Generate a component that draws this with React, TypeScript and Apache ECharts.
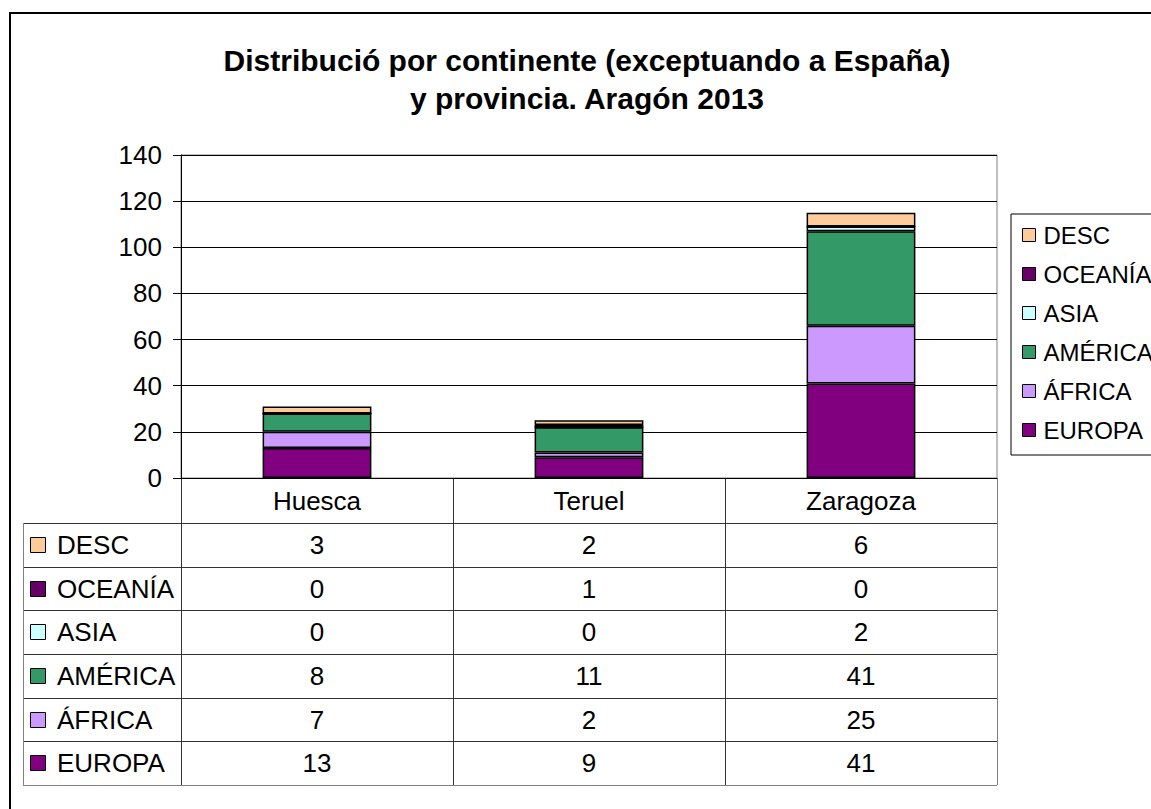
import React, { useEffect, useRef } from "react";
import * as echarts from "echarts";

const categories = ["Huesca", "Teruel", "Zaragoza"];
const seriesNames = ["EUROPA", "ÁFRICA", "AMÉRICA", "ASIA", "OCEANÍA", "DESC"];
const europa = [13, 9, 41];
const africa = [7, 2, 25];
const america = [8, 11, 41];
const asia = [0, 0, 2];
const oceania = [0, 1, 0];
const desc = [3, 2, 6];
const seriesValues = [europa, africa, america, asia, oceania, desc];
const seriesColors = ["#800080", "#CC99FF", "#339966", "#CCFFFF", "#660066", "#FFCC99"];
const yTicks = { min: 0, max: 140, interval: 20 };
const titleText = "Distribució por continente (exceptuando a España)\ny provincia. Aragón 2013";

const FONT = "'Liberation Sans', Arial, Helvetica, sans-serif";

export default function App() {
  const ref = useRef<HTMLDivElement>(null);
  useEffect(() => {
    if (!ref.current) return;
    const chart = echarts.init(ref.current, undefined, { renderer: "svg" });

    const W = 1151;
    const H = 809;
    const gL = 181, gR = 997, gT = 155, gB = 478;
    const colW = (gR - gL) / categories.length;
    const tLeft = 23, tTop = 523, tBottom = 785;
    const rows = seriesNames.map((n, i) => i).reverse();
    const rowH = (tBottom - tTop) / rows.length;

    const graphics: any[] = [];
    // outer frame
    graphics.push({
      type: "rect", shape: { x: 10, y: 13, width: 1200, height: 850 },
      style: { fill: "none", stroke: "#000", lineWidth: 2 }, silent: true,
    });
    // table horizontal lines
    for (let i = 0; i <= rows.length; i++) {
      const y = Math.round(tTop + i * rowH) + 0.5;
      graphics.push({
        type: "line", shape: { x1: tLeft, y1: y, x2: gR, y2: y },
        style: { stroke: i === rows.length ? "#808080" : "#333", lineWidth: 1 }, silent: true,
      });
    }
    // table vertical lines
    for (let j = 0; j <= categories.length; j++) {
      const x = Math.round(gL + j * colW) + 0.5;
      graphics.push({
        type: "line", shape: { x1: x, y1: gB, x2: x, y2: tBottom },
        style: { stroke: j === categories.length ? "#808080" : "#333", lineWidth: 1 }, silent: true,
      });
    }
    graphics.push({
      type: "line", shape: { x1: tLeft + 0.5, y1: tTop, x2: tLeft + 0.5, y2: tBottom },
      style: { stroke: "#808080", lineWidth: 1 }, silent: true,
    });
    // table contents
    rows.forEach((si, r) => {
      const cy = tTop + (r + 0.5) * rowH;
      graphics.push({
        type: "rect", shape: { x: 30.5, y: Math.round(cy - 8) + 0.5, width: 15, height: 15 },
        style: { fill: seriesColors[si], stroke: "#000", lineWidth: 1 }, silent: true,
      });
      graphics.push({
        type: "text", x: 57, y: cy,
        style: { text: seriesNames[si], fontSize: 26, fontFamily: FONT, fill: "#000", align: "left", verticalAlign: "middle" },
        silent: true,
      });
      seriesValues[si].forEach((v, j) => {
        graphics.push({
          type: "text", x: gL + (j + 0.5) * colW, y: cy,
          style: { text: String(v), fontSize: 26, fontFamily: FONT, fill: "#000", align: "center", verticalAlign: "middle" },
          silent: true,
        });
      });
    });

    chart.setOption({
      animation: false,
      backgroundColor: "#fff",
      textStyle: { fontFamily: FONT },
      title: {
        text: titleText,
        left: 587,
        top: 41,
        textAlign: "center",
        padding: 0,
        textStyle: { fontSize: 30, fontWeight: "bold", color: "#000", lineHeight: 38, fontFamily: FONT },
      },
      legend: {
        orient: "vertical",
        left: 1011,
        top: 214,
        padding: [7, 24, 11, 11],
        itemGap: 11,
        itemWidth: 13,
        itemHeight: 13,
        icon: "rect",
        backgroundColor: "#fff",
        borderColor: "#000",
        borderWidth: 1,
        data: [...seriesNames].reverse(),
        itemStyle: { borderColor: "#000", borderWidth: 1 },
        textStyle: { fontSize: 24, lineHeight: 28, color: "#000", fontFamily: FONT, padding: [0, 0, 0, 3] },
      },
      grid: {
        left: gL, right: W - gR, top: gT, bottom: H - gB,
        show: true, borderColor: "#808080", borderWidth: 1, backgroundColor: "#fff",
      },
      xAxis: {
        type: "category",
        data: categories,
        axisLine: { lineStyle: { color: "#000", width: 1 } },
        axisTick: { show: false },
        axisLabel: { fontSize: 26, color: "#000", margin: 10, fontFamily: FONT },
      },
      yAxis: {
        type: "value",
        min: yTicks.min,
        max: yTicks.max,
        interval: yTicks.interval,
        axisLine: { show: true, lineStyle: { color: "#000", width: 1 } },
        axisTick: { show: true, length: 8, lineStyle: { color: "#000" } },
        axisLabel: { fontSize: 26, color: "#000", margin: 19, fontFamily: FONT },
        splitLine: { lineStyle: { color: "#000", width: 1 } },
      },
      series: seriesNames.map((name, i) => ({
        name,
        type: "bar",
        stack: "total",
        barWidth: "40%",
        data: seriesValues[i],
        itemStyle: { color: seriesColors[i], borderColor: "#000", borderWidth: 1.5 },
      })),
      graphic: graphics,
    });

    return () => chart.dispose();
  }, []);

  return (
    <div
      ref={ref}
      style={{ position: "absolute", left: 0, top: 0, width: 1151, height: 809, background: "#fff" }}
    />
  );
}
